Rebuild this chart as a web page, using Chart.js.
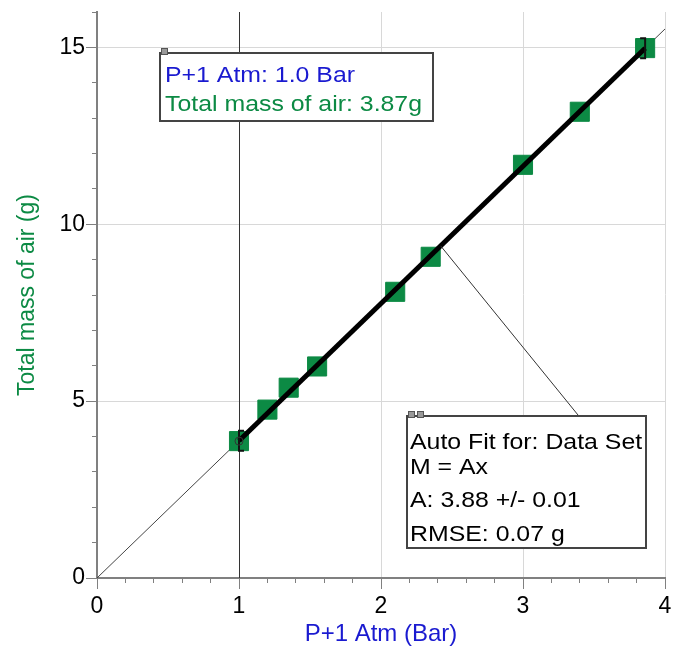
<!DOCTYPE html>
<html>
<head>
<meta charset="utf-8">
<script src="https://cdn.jsdelivr.net/npm/chart.js@4/dist/chart.umd.min.js"></script>
<style>
  body { margin: 0; background: #fff; }
  canvas { display: block; }
</style>
</head>
<body>
<canvas id="canvas" width="673" height="647"></canvas>
<script>
// measured points
var pressure = [1.0, 1.2, 1.35, 1.55, 2.1, 2.35, 3.0, 3.4, 3.86];
var airMass = [3.87, 4.76, 5.38, 5.98, 8.09, 9.08, 11.68, 13.18, 14.98];

// fit M = A x
var fitA = 3.88;
var cursorX = 1.0;
var cursorY = 3.87;

var xMajor = [0, 1, 2, 3, 4];
var yMajor = [0, 5, 10, 15];

var fontName = '"Liberation Sans", Arial, sans-serif';
var green = '#0c8a44';
var blue = '#1a1ad0';

var points = pressure.map(function(p, i) { return {x: p, y: airMass[i]}; });
var fitFull = [{x: 0, y: 0}, {x: 4, y: fitA * 4}];
var fitRange = [
    {x: pressure[0], y: fitA * pressure[0]},
    {x: pressure[pressure.length - 1], y: fitA * pressure[pressure.length - 1]}
];

function isWhole(v, step) {
    var q = v / step;
    return Math.abs(q - Math.round(q)) < 1e-6;
}

var overlay = {
    id: 'overlay',
    beforeDatasetsDraw: function(chart) {
        var ctx = chart.ctx, xs = chart.scales.x, ys = chart.scales.y, a = chart.chartArea;
        ctx.save();
        ctx.strokeStyle = '#333';
        ctx.lineWidth = 1;
        var cx = Math.round(xs.getPixelForValue(cursorX)) + 0.5;
        ctx.beginPath();
        ctx.moveTo(cx, a.top);
        ctx.lineTo(cx, a.bottom);
        ctx.stroke();
        // longer tick marks at the labelled values
        ctx.strokeStyle = '#808080';
        ctx.lineWidth = 1;
        xMajor.forEach(function(v) {
            var px = Math.round(xs.getPixelForValue(v)) + 0.5;
            ctx.beginPath();
            ctx.moveTo(px, a.bottom);
            ctx.lineTo(px, a.bottom + 11);
            ctx.stroke();
        });
        yMajor.forEach(function(v) {
            var py = Math.round(ys.getPixelForValue(v)) + 0.5;
            ctx.beginPath();
            ctx.moveTo(a.left, py);
            ctx.lineTo(a.left - 11, py);
            ctx.stroke();
        });
        ctx.restore();
    },
    afterDatasetsDraw: function(chart) {
        var ctx = chart.ctx, xs = chart.scales.x, ys = chart.scales.y;
        ctx.save();
        // fit range brackets
        ctx.strokeStyle = '#111';
        ctx.lineWidth = 2;
        [0, pressure.length - 1].forEach(function(i, k) {
            var px = xs.getPixelForValue(pressure[i]);
            var py = ys.getPixelForValue(fitA * pressure[i]);
            var d = k === 0 ? 5 : -5;
            ctx.beginPath();
            ctx.moveTo(px + d, py - 10);
            ctx.lineTo(px, py - 10);
            ctx.lineTo(px, py + 10);
            ctx.lineTo(px + d, py + 10);
            ctx.stroke();
        });
        // examine circle
        ctx.lineWidth = 1;
        ctx.strokeStyle = '#333';
        ctx.beginPath();
        ctx.arc(xs.getPixelForValue(cursorX), ys.getPixelForValue(cursorY), 4, 0, Math.PI * 2);
        ctx.stroke();

        // leader line from fit to box
        ctx.strokeStyle = '#333';
        ctx.lineWidth = 1;
        ctx.beginPath();
        ctx.moveTo(xs.getPixelForValue(2.42), ys.getPixelForValue(fitA * 2.42));
        ctx.lineTo(578, 415);
        ctx.stroke();

        function box(x, y, w, h, icons) {
            ctx.fillStyle = '#fff';
            ctx.fillRect(x, y, w, h);
            ctx.strokeStyle = '#444';
            ctx.lineWidth = 2;
            ctx.strokeRect(x, y, w, h);
            for (var i = 0; i < icons; i++) {
                ctx.fillStyle = '#999';
                ctx.fillRect(x + 1 + i * 9, y - 5, 7, 7);
                ctx.strokeStyle = '#555';
                ctx.lineWidth = 1;
                ctx.strokeRect(x + 1.5 + i * 9, y - 4.5, 6, 6);
            }
        }
        // text in the boxes is a bit wider than normal Arial
        function label(t, x, y, col) {
            ctx.save();
            ctx.translate(x, y);
            ctx.scale(1.13, 1);
            ctx.fillStyle = col;
            ctx.fillText(t, 0, 0);
            ctx.restore();
        }
        ctx.font = '22px ' + fontName;
        ctx.textBaseline = 'middle';
        ctx.textAlign = 'left';

        box(160, 53, 273, 68, 1);
        label('P+1 Atm: 1.0 Bar', 165, 76, blue);
        label('Total mass of air: 3.87g', 165, 105, green);

        box(407, 416, 239, 132, 2);
        label('Auto Fit for: Data Set', 410, 443, '#000');
        label('M = Ax', 410, 468, '#000');
        label('A: 3.88 +/- 0.01', 410, 501, '#000');
        label('RMSE: 0.07 g', 410, 535, '#000');
        ctx.restore();
    }
};

var ctx = document.getElementById('canvas').getContext('2d');
var chart = new Chart(ctx, {
    type: 'scatter',
    data: {
        datasets: [{
            type: 'line',
            label: 'Fit range',
            data: fitRange,
            borderColor: '#000',
            borderWidth: 5,
            pointRadius: 0,
            fill: false
        }, {
            label: 'Data Set',
            data: points,
            backgroundColor: green,
            borderColor: green,
            pointStyle: 'rect',
            pointRadius: 13.5,
            pointHoverRadius: 13.5
        }, {
            type: 'line',
            label: 'Fit',
            data: fitFull,
            borderColor: '#444',
            borderWidth: 1,
            pointRadius: 0,
            fill: false
        }]
    },
    options: {
        responsive: false,
        animation: false,
        layout: { autoPadding: false, padding: { top: 12, right: 8, left: 0, bottom: 0 } },
        plugins: { legend: { display: false }, tooltip: { enabled: false } },
        scales: {
            x: {
                type: 'linear',
                min: 0, max: 4,
                afterFit: function(s) {
                    s.height = 69;
                    s.paddingLeft = 0;
                    s.paddingRight = 0;
                },
                border: { color: '#808080', width: 2 },
                grid: {
                    color: function(c) { return c.tick && isWhole(c.tick.value, 1) ? '#d8d8d8' : 'rgba(0,0,0,0)'; },
                    tickColor: '#808080',
                    tickLength: 5
                },
                ticks: {
                    stepSize: 0.2,
                    autoSkip: false,
                    maxRotation: 0,
                    color: '#000',
                    padding: 10,
                    font: { family: fontName, size: 23 },
                    callback: function(v) { return isWhole(v, 1) ? Math.round(v) : ''; }
                },
                title: {
                    display: true,
                    text: 'P+1 Atm (Bar)',
                    color: blue,
                    font: { family: fontName, size: 24 },
                    padding: { top: 0, bottom: -2 }
                }
            },
            y: {
                type: 'linear',
                min: 0, max: 16,
                afterFit: function(s) {
                    s.width = 97;
                    s.paddingTop = 0;
                    s.paddingBottom = 0;
                },
                border: { color: '#808080', width: 2 },
                grid: {
                    color: function(c) { return c.tick && isWhole(c.tick.value, 5) ? '#d8d8d8' : 'rgba(0,0,0,0)'; },
                    tickColor: '#808080',
                    tickLength: 5
                },
                ticks: {
                    stepSize: 1,
                    autoSkip: false,
                    color: '#000',
                    padding: 7,
                    font: { family: fontName, size: 23 },
                    callback: function(v) { return isWhole(v, 5) ? v : ''; }
                },
                title: {
                    display: true,
                    text: 'Total mass of air (g)',
                    color: green,
                    font: { family: fontName, size: 23 },
                    padding: { top: 14, bottom: 0 }
                }
            }
        }
    },
    plugins: [overlay]
});
</script>
</body>
</html>
